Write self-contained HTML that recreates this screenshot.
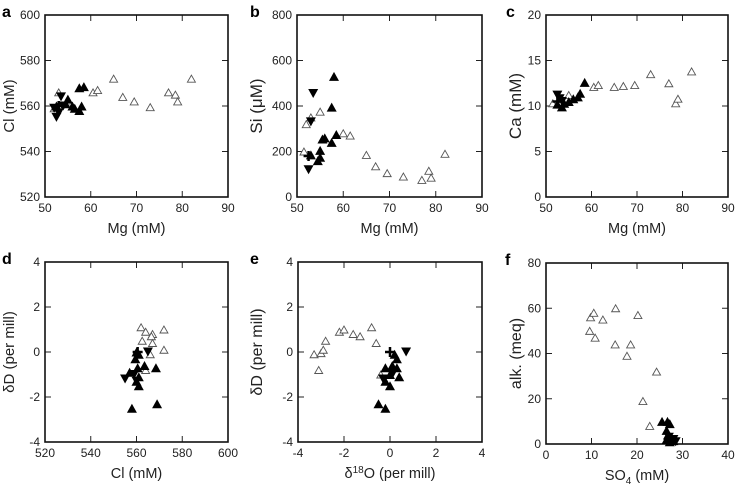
<!DOCTYPE html>
<html><head><meta charset="utf-8">
<style>
html,body{margin:0;padding:0;background:#fff;}
svg{display:block;font-family:"Liberation Sans",Arial,sans-serif;}
</style></head>
<body>
<svg id="fig" width="737" height="488" viewBox="0 0 737 488"></svg>
<script>
// ---- data ----
const aOpen=[[52,559],[53,566],[55,562],[60.5,566],[61.5,567],[65,572],[67,564],[69.5,562],[73,559.5],[77,566],[78.5,565],[79,562],[82,572]];
const aUp=[[52.5,560],[55,563],[54.5,561],[56,560],[57.5,568],[58.5,568.5],[58,560],[57.5,558],[56.5,559]];
const aDown=[[52.5,555],[53.5,564],[53,557],[52,559],[54,560]];
const aPlus=[[53,560]];
const bOpen=[[51.5,200],[52,320],[53,350],[55,375],[60,280],[61.5,270],[65,185],[67,135],[69.5,105],[73,90],[77,75],[78.5,115],[79,85],[82,190]];
const bUp=[[58,530],[57.5,395],[56,260],[55.5,255],[58.5,275],[57.5,240],[55,205],[54.5,160],[55,175],[53,185]];
const bDown=[[53.5,455],[53,330],[52.5,120]];
const bPlus=[[52.5,180]];
const cOpen=[[51.5,10.3],[55,11.2],[60.5,12.1],[61.5,12.3],[65,12.1],[67,12.2],[69.5,12.3],[73,13.5],[77,12.5],[78.5,10.3],[79,10.8],[82,13.8]];
const cUp=[[58.5,12.6],[57.5,11.4],[57,11],[56,10.8],[55,10.5],[53.5,9.9],[54,10.3],[52.5,10.2]];
const cDown=[[52.5,11.2],[53,10.8],[53.5,10.5]];
const cPlus=[[52.5,10.5]];
const dOpen=[[562,1.1],[564,0.9],[567,0.8],[566.5,0.7],[572,1.0],[562.5,0.5],[567,0.4],[566,-0.1],[572,0.1],[564,-0.8]];
const dUp=[[560,0],[561,-0.1],[559.5,-0.3],[560.5,-0.7],[563.5,-0.6],[568.5,-0.7],[557,-0.9],[561,-1.1],[560,-1.3],[561,-1.5],[558,-2.5],[569,-2.3]];
const dDown=[[565,0],[555,-1.2],[559,-1],[560,-1.3]];
const dPlus=[[560.5,0]];
const eOpen=[[-3.3,-0.1],[-3,-0.05],[-2.9,0.1],[-2.8,0.5],[-2.2,0.9],[-2,1.0],[-1.6,0.8],[-1.3,0.7],[-0.8,1.1],[-0.6,0.4],[-3.1,-0.8],[-0.4,-1.0]];
const eUp=[[0.2,-0.1],[0.3,-0.3],[-0.2,-0.7],[0.3,-0.7],[0.1,-0.6],[0,-1],[0.4,-1.1],[-0.2,-1.3],[0,-1.5],[-0.5,-2.3],[-0.2,-2.5]];
const eDown=[[0.7,0],[-0.3,-1.2],[0.1,-1]];
const ePlus=[[0,0]];
const fOpen=[[9.8,56],[10.5,58],[12.5,55],[15.3,60],[20.2,57],[9.6,50],[10.8,47],[15.2,44],[18.6,44],[17.8,39],[24.3,32],[21.3,19],[22.8,8]];
const fUp=[[25.5,10],[26.7,10],[27.2,9],[26.5,6],[26.8,4],[27,3],[27.5,2],[28,1.5],[26.5,2],[27.2,1]];
const fDown=[[27,3],[28,2],[28.5,1]];
const fPlus=[];
// ticks
const tMg=[50,60,70,80,90], tCl=[520,540,560,580,600], tSi=[0,200,400,600,800], tCa=[0,5,10,15,20];
const tD=[-4,-2,0,2,4], tSO4=[0,10,20,30,40], tAlk=[0,20,40,60,80];

const svg=document.getElementById('fig');
const NS='http://www.w3.org/2000/svg';
function mk(tag,attrs,parent){const e=document.createElementNS(NS,tag);for(const k in attrs)e.setAttribute(k,attrs[k]);(parent||svg).appendChild(e);return e;}

function panel(p){
  const g=mk('g',{});
  
  
  const sx=v=>p.x0+(v-p.xt[0])/(p.xt[p.xt.length-1]-p.xt[0])*(p.x1-p.x0);
  const sy=v=>p.y1-(v-p.yt[0])/(p.yt[p.yt.length-1]-p.yt[0])*(p.y1-p.y0);
  p.xt.forEach(t=>{const x=sx(t);
    if(t!==p.xt[0]&&t!==p.xt[p.xt.length-1]){mk('line',{x1:x,x2:x,y1:p.y1,y2:p.y1-6,stroke:'#222','stroke-width':1},g);mk('line',{x1:x,x2:x,y1:p.y0,y2:p.y0+6,stroke:'#222','stroke-width':1},g);}
    const tx=mk('text',{x:x,y:p.y1+15,'text-anchor':'middle','font-size':12,fill:'#222'},g);tx.textContent=t;
    
    
  });
  p.yt.forEach(t=>{const y=sy(t);
    if(t!==p.yt[0]&&t!==p.yt[p.yt.length-1]){mk('line',{x1:p.x0,x2:p.x0+6,y1:y,y2:y,stroke:'#222','stroke-width':1},g);mk('line',{x1:p.x1,x2:p.x1-6,y1:y,y2:y,stroke:'#222','stroke-width':1},g);}
    const tx=mk('text',{x:p.x0-5,y:y+4,'text-anchor':'end','font-size':12,fill:'#222'},g);tx.textContent=t;
    
    
  });
  const box=mk('rect',{x:p.x0,y:p.y0,width:p.x1-p.x0,height:p.y1-p.y0,fill:'none',stroke:'#111','stroke-width':1.6},g);
  
  
  p.open.forEach(d=>{const x=sx(d[0]),y=sy(d[1]);
    const m=mk('path',{d:`M${x-4},${y+3.5}L${x+4},${y+3.5}L${x},${y-3.5}Z`,fill:'#fff',stroke:'#555','stroke-width':0.9},g);
    
    });
  p.up.forEach(d=>{const x=sx(d[0]),y=sy(d[1]);
    const m=mk('path',{d:`M${x-5},${y+4.5}L${x+5},${y+4.5}L${x},${y-4.5}Z`,fill:'#000'},g);
    
    });
  p.down.forEach(d=>{const x=sx(d[0]),y=sy(d[1]);
    const m=mk('path',{d:`M${x-5},${y-4.5}L${x+5},${y-4.5}L${x},${y+4.5}Z`,fill:'#000'},g);
    
    });
  p.plus.forEach(d=>{const x=sx(d[0]),y=sy(d[1]);
    const m=mk('path',{d:`M${x-5},${y}L${x+5},${y}M${x},${y-5}L${x},${y+5}`,stroke:'#000','stroke-width':2.5},g);
    
    });
  const L=mk('text',{x:p.lx,y:p.ly,'font-size':16,'font-weight':'bold',fill:'#000'},g);L.textContent=p.id;
  
  
  const xt=mk('text',{x:(p.x0+p.x1)/2,y:p.y1+36,'text-anchor':'middle','font-size':14.5,fill:'#222'},g);xt.innerHTML=p.xl;
  
  
  const cy=(p.y0+p.y1)/2;
  const yt=mk('text',{x:p.ytx,y:cy,'text-anchor':'middle','font-size':p.yfs||14.5,fill:'#222',transform:`rotate(-90 ${p.ytx} ${cy})`},g);yt.innerHTML=p.yl;
  
  
}
panel({id:'a',x0:45,x1:228,y0:15,y1:197,xt:tMg,yt:tCl,open:aOpen,up:aUp,down:aDown,plus:aPlus,lx:2,ly:17,xl:'Mg (mM)',yl:'Cl (mM)',ytx:14,yfs:15});
panel({id:'b',x0:297,x1:482,y0:15,y1:197,xt:tMg,yt:tSi,open:bOpen,up:bUp,down:bDown,plus:bPlus,lx:250,ly:17,xl:'Mg (mM)',yl:'Si (μM)',ytx:262,yfs:17});
panel({id:'c',x0:546,x1:728,y0:15,y1:197,xt:tMg,yt:tCa,open:cOpen,up:cUp,down:cDown,plus:cPlus,lx:506,ly:17,xl:'Mg (mM)',yl:'Ca  (mM)',ytx:521,yfs:17});
panel({id:'d',x0:45,x1:228,y0:262,y1:442,xt:tCl,yt:tD,open:dOpen,up:dUp,down:dDown,plus:dPlus,lx:2,ly:264,xl:'Cl (mM)',yl:'δD (per mill)',ytx:14,yfs:15});
panel({id:'e',x0:298,x1:482,y0:262,y1:442,xt:tD,yt:tD,open:eOpen,up:eUp,down:eDown,plus:ePlus,lx:250,ly:264,xl:'δ<tspan font-size="10" dy="-5">18</tspan><tspan dy="5">O (per mill)</tspan>',yl:'δD (per mill)',ytx:262,yfs:16});
panel({id:'f',x0:546,x1:728,y0:263,y1:444,xt:tSO4,yt:tAlk,open:fOpen,up:fUp,down:fDown,plus:fPlus,lx:505,ly:265,xl:'SO<tspan font-size="10" dy="4">4</tspan><tspan dy="-4">  (mM)</tspan>',yl:'alk. (meq)',ytx:521,yfs:16});
</script>
</body></html>
